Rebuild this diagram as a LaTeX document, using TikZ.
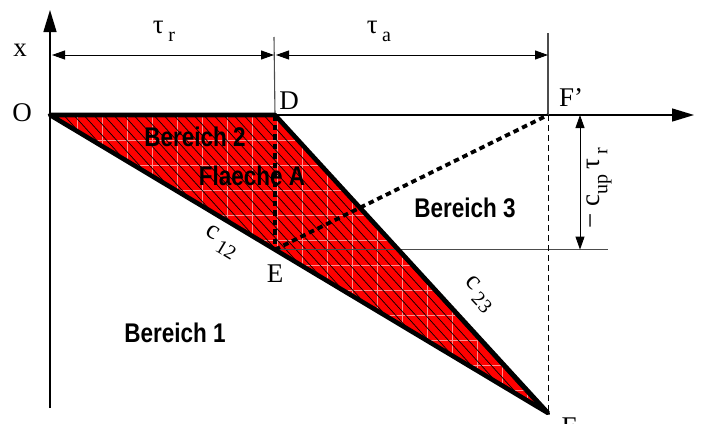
\documentclass[tikz,border=0pt]{standalone}
\usepackage{fontspec}
\setmainfont{Liberation Serif}
\newfontfamily\bsans{Liberation Sans}
\usetikzlibrary{arrows.meta,calc}
\tikzset{
  lbl/.style={font=\fontsize{27}{27}\selectfont, inner sep=0pt},
  region/.style={font=\bsans\bfseries\fontsize{25}{25}\selectfont, inner sep=0pt},
  thinline/.style={draw=black!70, line width=1.1pt},
  axis/.style={draw=black, line width=1.4pt, -{Triangle[length=22pt,width=13pt]}},
  dimarrow/.style={draw=black, line width=0.9pt, {Triangle[length=13pt,width=9pt]}-{Triangle[length=13pt,width=9pt]}},
  thickdot/.style={line width=3.8pt, dash pattern=on 5.5pt off 4pt},
  outline/.style={line width=4.6pt, line join=round},
  gridline/.style={draw=red!45!white, line width=0.6pt},
  hatch/.style={draw=black, line width=0.7pt},
}
\newcommand{\lowsub}[1]{\raisebox{-0.3em}{\fontsize{20}{20}\selectfont #1}}
\newcommand{\regtext}[1]{\scalebox{0.9}[1.08]{#1}}
\begin{document}
\begin{tikzpicture}[x=1pt,y=-1pt]
\useasboundingbox (0,0) rectangle (714,423);
\coordinate (O) at (50,115);
\coordinate (D) at (275,115);
\coordinate (Fp) at (548,115);
\coordinate (F) at (548,413);
\coordinate (E) at (275,249.6);
\coordinate (H) at (608,249.6);
\coordinate (Xtop) at (50,10);
\coordinate (Xbot) at (50,408);
\coordinate (Xend) at (694,115);
\coordinate (Dtop) at (274,37);
\coordinate (Ftop) at (548,33);
\coordinate (A1) at (52,55);
\coordinate (A2) at (274,55);
\coordinate (A3) at (276,55);
\coordinate (A4) at (548,55);
\coordinate (V1) at (580,115);
\coordinate (V2) at (580,249.6);

% filled region
\fill[red] (O)--(D)--(F)--cycle;
\begin{scope}
  \clip (O)--(D)--(F)--cycle;
  \foreach \x in {52,77,...,560} \draw[gridline] (\x,100)--(\x,430);
  \foreach \y in {140,165,...,420} \draw[gridline] (40,\y)--(560,\y);
  \foreach \i in {-380,-370,...,560} \draw[hatch] (\i,100)--++(300,330);
\end{scope}

% axes
\draw[axis] (Xbot)--(Xtop);
\draw[axis] (O)--(Xend);

% dimension ticks and arrows
\draw[thinline] (Dtop)--(D);
\draw[thinline] (Ftop)--(Fp);
\draw[dimarrow] (A1)--(A2);
\draw[dimarrow] (A3)--(A4);
\draw[thinline] (E)--(H);
\draw[dimarrow] (V1)--(V2);
\draw[black, line width=1pt, dash pattern=on 6pt off 4pt] (Fp)--(F);

% outline
\draw[outline] (O)--(D)--(F)--cycle;
\draw[thickdot] (D)--(E);
\draw[thickdot] (E)--(Fp);

% labels
\node[lbl] (lx) at (20,50) {x};
\node[lbl] (lO) at (22,113) {O};
\node[lbl] (lD) at (289,101) {D};
\node[lbl] (lFp) at (571,98) {F’};
\node[lbl] (lE) at (275,274) {E};
\node[lbl] (lF) at (569,427) {F};
\node[lbl] (tr) at (164,31) {τ\,\lowsub{r}};
\node[lbl] (ta) at (379,31) {τ\,\lowsub{a}};
\node[lbl, rotate=-31] (c12) at (221,242) {c\,\lowsub{12}};
\node[lbl, rotate=-47] (c23) at (479,294) {c\,\lowsub{23}};
\node[lbl, rotate=90] (cup) at (599,188) {− c\lowsub{up}\,τ\,\lowsub{r}};
\node[region] (b2) at (195,137) {\regtext{Bereich 2}};
\node[region] (fa) at (252,176) {\regtext{Flaeche A}};
\node[region] (b3) at (465,208) {\regtext{Bereich 3}};
\node[region] (b1) at (175,333) {\regtext{Bereich 1}};
\end{tikzpicture}
\end{document}
